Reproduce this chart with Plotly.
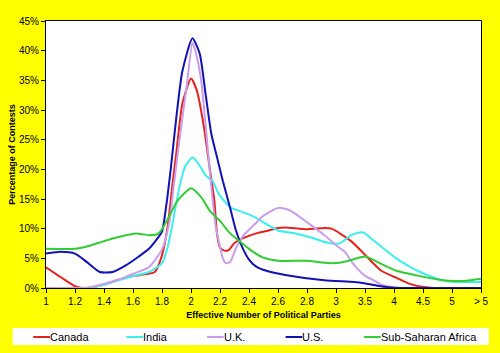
import numpy as np
import plotly.graph_objects as go

# Category axis (Effective Number of Political Parties)
categories = ["1", "1.2", "1.4", "1.6", "1.8", "2", "2.2", "2.4", "2.6", "2.8",
              "3", "3.5", "4", "4.5", "5", "> 5"]
category_values = [1, 1.2, 1.4, 1.6, 1.8, 2, 2.2, 2.4, 2.6, 2.8, 3, 3.5, 4, 4.5, 5, 5.5]

y_ticks = [0, 5, 10, 15, 20, 25, 30, 35, 40, 45]

canada_x = [1.00, 1.10, 1.20, 1.25, 1.30, 1.40, 1.50, 1.60, 1.68, 1.75, 1.80, 1.84, 1.87,
            1.90, 1.94, 2.00, 2.04, 2.09, 2.13, 2.16, 2.18, 2.20, 2.23, 2.26, 2.30, 2.36,
            2.45, 2.52, 2.60, 2.65, 2.80, 2.92, 2.97, 3.26, 3.45, 3.77, 4.01, 4.27, 4.52,
            4.67, 5.00, 5.50]
canada_y = [3.5, 1.85, 0.3, 0.0, 0.05, 0.6, 1.4, 2.0, 2.3, 2.7, 5.5, 10.5, 17.0,
            23.0, 31.0, 35.3, 33.3, 27.0, 20.0, 15.0, 9.0, 6.8, 6.3, 6.4, 7.6, 8.4,
            9.2, 9.6, 10.1, 10.2, 9.9, 10.1, 10.0, 7.9, 6.1, 3.0, 1.85, 0.7, 0.15,
            0.0, 0.0, 0.0]

india_x = [1.00, 1.20, 1.30, 1.40, 1.50, 1.60, 1.71, 1.80, 1.84, 1.87, 1.92, 1.96, 2.01,
           2.04, 2.07, 2.10, 2.15, 2.19, 2.27, 2.31, 2.40, 2.45, 2.49, 2.60, 2.72, 2.83,
           2.95, 3.06, 3.26, 3.46, 3.65, 4.04, 4.27, 4.45, 4.83, 5.00, 5.23, 5.50]
india_y = [0.0, 0.0, 0.05, 0.55, 1.3, 2.0, 2.7, 4.2, 7.0, 10.5, 17.0, 20.5, 22.0,
           21.3, 20.2, 19.0, 18.0, 15.9, 13.6, 13.2, 12.4, 11.8, 11.2, 9.7, 9.2, 8.5,
           7.6, 7.5, 8.9, 9.4, 8.0, 5.0, 3.6, 2.7, 1.3, 1.05, 1.0, 1.0]

uk_x = [1.00, 1.20, 1.28, 1.40, 1.50, 1.60, 1.71, 1.80, 1.85, 1.88, 1.91, 1.97, 2.01,
        2.03, 2.07, 2.11, 2.14, 2.17, 2.20, 2.22, 2.24, 2.27, 2.31, 2.36, 2.45, 2.49,
        2.60, 2.68, 2.81, 2.92, 3.03, 3.15, 3.31, 3.51, 3.65, 3.77, 4.01, 4.27, 5.50]
uk_y = [0.0, 0.0, 0.0, 0.7, 1.4, 2.4, 3.5, 6.5, 11.0, 17.0, 23.0, 34.0, 41.3,
        40.0, 35.0, 25.0, 17.0, 10.5, 6.9, 5.0, 4.2, 4.4, 6.7, 8.8, 11.0, 12.0,
        13.5, 13.1, 10.9, 8.9, 7.0, 6.1, 3.9, 2.0, 1.3, 0.6, 0.1, 0.0, 0.0]

us_x = [1.00, 1.10, 1.20, 1.28, 1.37, 1.46, 1.55, 1.64, 1.71, 1.77, 1.80, 1.83, 1.86,
        1.90, 1.94, 2.01, 2.06, 2.10, 2.14, 2.18, 2.22, 2.27, 2.31, 2.36, 2.40, 2.45,
        2.52, 2.65, 2.92, 3.31, 3.51, 3.77, 4.01, 4.27, 5.50]
us_y = [5.8, 6.1, 5.8, 4.4, 2.7, 2.7, 3.8, 5.3, 6.6, 8.4, 9.5, 14.0, 20.0,
        29.0, 36.5, 42.1, 39.5, 32.8, 26.0, 22.0, 18.0, 13.5, 9.7, 6.5, 4.8, 3.6,
        2.9, 2.2, 1.3, 1.0, 0.75, 0.3, 0.05, 0.0, 0.0]

ssa_x = [1.00, 1.20, 1.28, 1.40, 1.50, 1.62, 1.71, 1.77, 1.80, 1.86, 1.91, 2.00, 2.07,
         2.13, 2.20, 2.27, 2.34, 2.40, 2.49, 2.60, 2.80, 2.95, 3.09, 3.32, 3.51, 3.77,
         4.04, 4.45, 4.78, 5.00, 5.23, 5.50]
ssa_y = [6.6, 6.6, 7.0, 7.9, 8.6, 9.2, 8.9, 9.1, 9.9, 12.6, 14.8, 16.8, 15.3,
         13.0, 11.3, 9.2, 7.8, 6.6, 5.2, 4.6, 4.6, 4.2, 4.3, 4.9, 5.3, 4.1,
         2.9, 2.0, 1.4, 1.2, 1.2, 1.55]

series = [
    ("Canada", canada_x, canada_y, "#E3231E"),
    ("India", india_x, india_y, "#3CEEEE"),
    ("U.K.", uk_x, uk_y, "#C89EEB"),
    ("U.S.", us_x, us_y, "#1212B4"),
    ("Sub-Saharan Africa", ssa_x, ssa_y, "#33CC33"),
]

positions = list(range(len(categories)))


def to_axis(vals):
    # map ENP values onto the evenly spaced category axis
    return np.interp(vals, category_values, positions)


fig = go.Figure()
for name, xs, ys, color in series:
    fig.add_trace(go.Scatter(
        x=to_axis(xs), y=ys, mode="lines", name=name,
        line=dict(color=color, width=2, shape="spline", smoothing=0.6),
        showlegend=False,
    ))

font_main = "Liberation Sans, Arial, sans-serif"

# plot-area box in pixels (layout only)
PL, PR, PT, PB = 46, 489, 21, 288
pw, ph = PR - PL, PB - PT


def px_x(p):
    return (p - PL) / pw


def px_y(p):
    return (PB - p) / ph


# legend box and entries (layout positions in pixels)
legend_line_starts = [33, 128, 210, 290, 370]
legend_line_len = 17
legend_mid_y = 337

shapes = [
    dict(type="rect", xref="paper", yref="paper",
         x0=px_x(12), x1=px_x(497), y0=px_y(345), y1=px_y(328),
         fillcolor="#FFFFFF", line=dict(width=0), layer="below"),
]
annotations = []
for (name, _, _, color), x0 in zip(series, legend_line_starts):
    shapes.append(dict(type="line", xref="paper", yref="paper",
                       x0=px_x(x0), x1=px_x(x0 + legend_line_len),
                       y0=px_y(legend_mid_y), y1=px_y(legend_mid_y),
                       line=dict(color=color, width=2)))
    annotations.append(dict(text=name, xref="paper", yref="paper",
                            x=px_x(x0 + legend_line_len - 1), y=px_y(legend_mid_y),
                            xanchor="left", yanchor="middle", showarrow=False,
                            borderpad=0, font=dict(family=font_main, size=11,
                                                    color="#000000")))

fig.update_layout(
    width=500, height=353,
    margin=dict(l=PL, r=500 - PR, t=PT, b=353 - PB),
    paper_bgcolor="#FFFF00",
    plot_bgcolor="#FFFFFF",
    font=dict(family=font_main, size=10, color="#000000"),
    showlegend=False,
    xaxis=dict(
        range=[0, 15], tickmode="array", tickvals=positions, ticktext=categories,
        showgrid=False, zeroline=False, showline=True, linecolor="#000000", linewidth=1,
        mirror=True, ticks="outside", ticklen=4, tickcolor="#000000",
        tickfont=dict(family=font_main, size=10),
        title=dict(text="<b>Effective Number of Political Parties</b>",
                   font=dict(family=font_main, size=9), standoff=5),
    ),
    yaxis=dict(
        range=[0, 45], tickmode="array", tickvals=y_ticks,
        ticktext=[f"{v}%" for v in y_ticks],
        showgrid=False, zeroline=False, showline=True, linecolor="#000000", linewidth=1,
        mirror=True, ticks="outside", ticklen=4, tickcolor="#000000",
        tickfont=dict(family=font_main, size=10),
        title=dict(text="<b>Percentage of Contests</b>",
                   font=dict(family=font_main, size=9), standoff=1),
    ),
    shapes=shapes,
    annotations=annotations,
)

fig.write_html("out.html")
